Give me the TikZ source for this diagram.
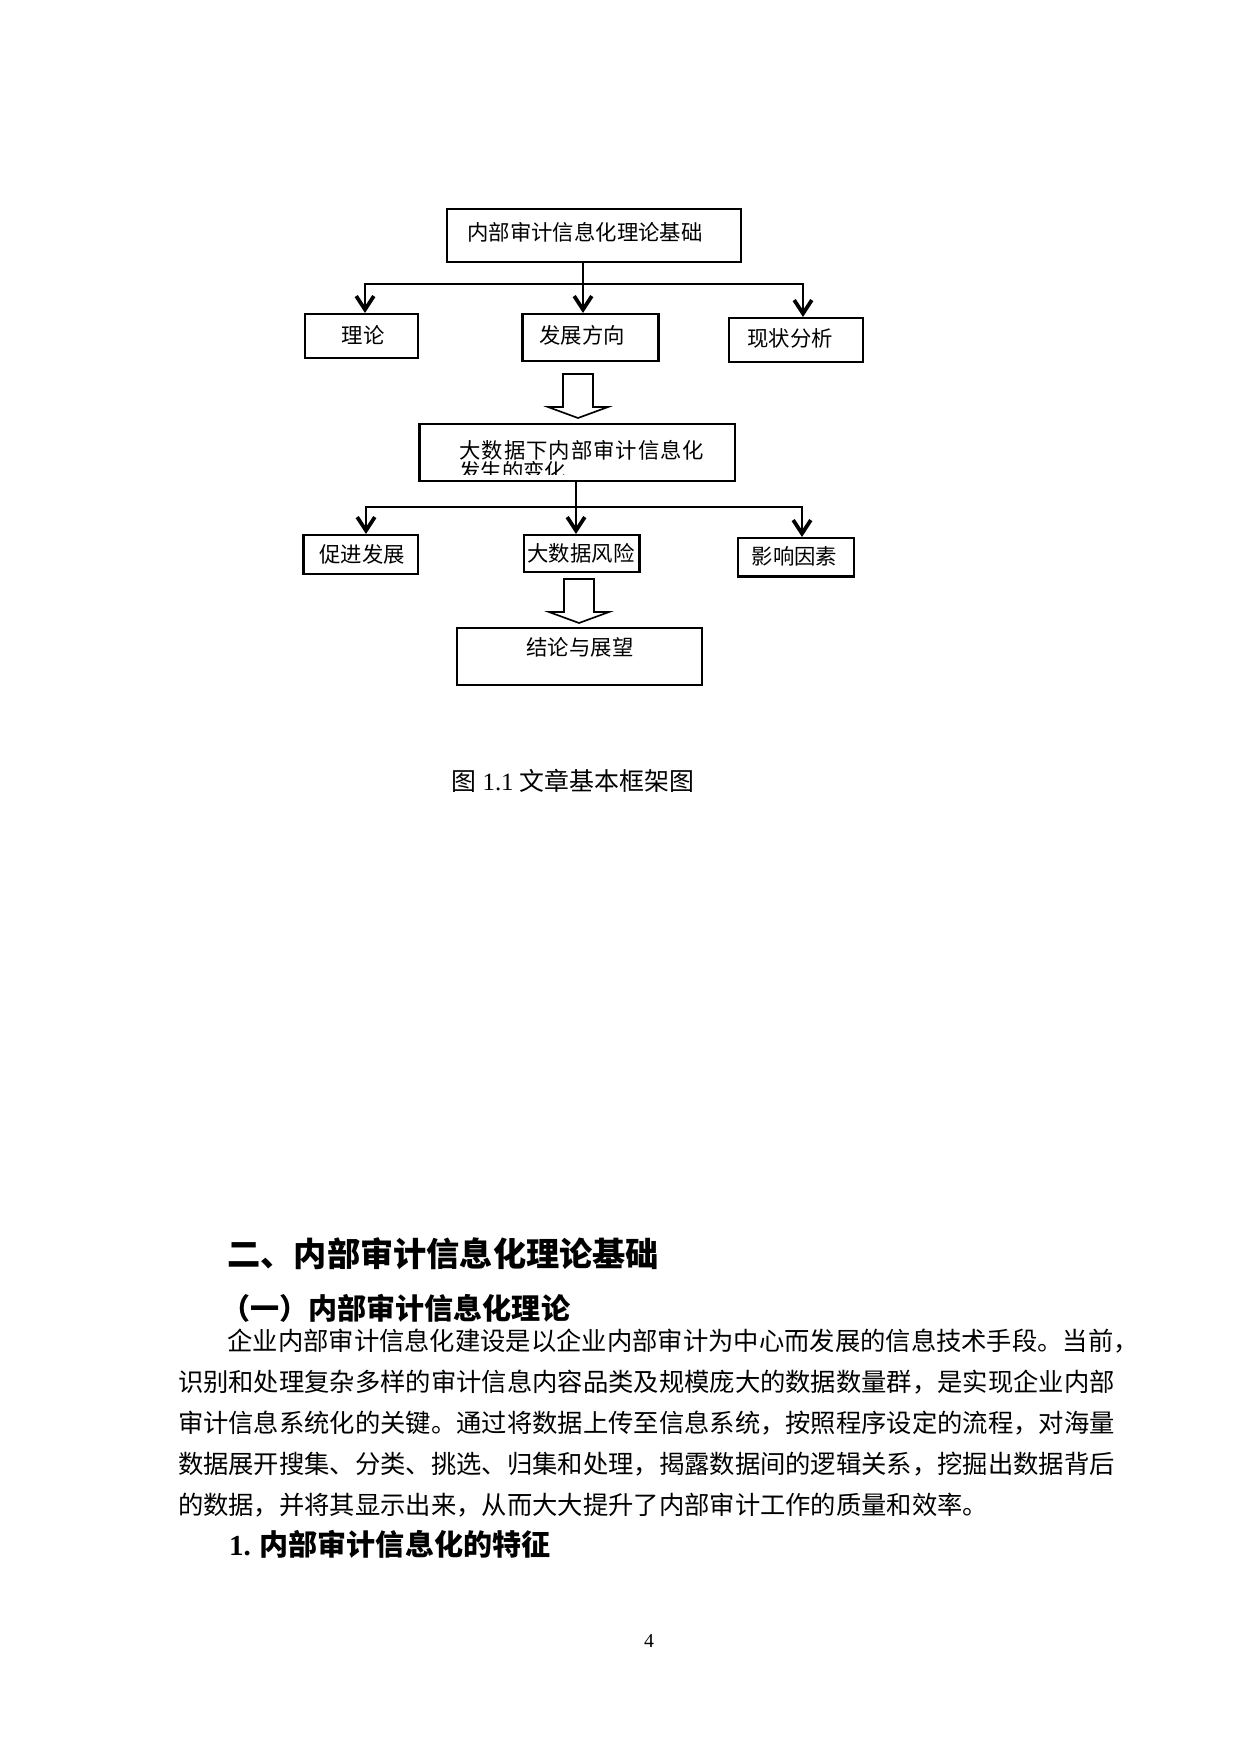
\documentclass[tikz,border=0pt]{standalone}
\usepackage{fontspec}
\setmainfont{Liberation Serif}
\newfontfamily\cjk{Noto Sans CJK SC}
\usetikzlibrary{arrows.meta,fit}
\newcommand\gapk{\kern0.47pt}
\begin{document}
\begin{tikzpicture}[x=0.169355mm,y=-0.169355mm,
  box/.style={draw, line width=1pt, inner sep=0pt},
  lbl/.style={font=\cjk\fontsize{10.3pt}{12pt}\selectfont, inner sep=0pt, anchor=base},
  conn/.style={line width=0.8pt},
  arr/.style={conn, -{Straight Barb[length=6.5pt,width=8.5pt,line width=1.8pt]}},
  blockarr/.style={draw, line width=0.8pt, line join=miter},
  hone/.style={font=\cjk\bfseries\fontsize{16pt}{18pt}\selectfont, inner sep=0pt, anchor=base west},
  htwo/.style={font=\cjk\bfseries\fontsize{14pt}{16pt}\selectfont, inner sep=0pt, anchor=base west},
  body/.style={font=\cjk\fontsize{12.2pt}{14pt}\selectfont, inner sep=0pt, anchor=base west}]
\useasboundingbox (0,0) rectangle (1240,1754);
\fill[white] (0,0) rectangle (1240,1754);

% boxes
\node[box, fit={(447,209) (741,262)}] (top) {};
\node[box, fit={(305,314) (418,358)}] (b1) {};
\node[box, fit={(522.5,314) (658.5,361)}] (b2) {};
\node[box, fit={(729,318) (863,362)}] (b3) {};
\node[box, fit={(419.5,424) (735,481)}] (c) {};
\node[box, fit={(303.5,535) (418,574)}] (d1) {};
\node[box, fit={(524.3,535) (639.5,572)}] (d2) {};
\node[box, fit={(737.6,538) (854,576.5)}] (d3) {};
\node[box, fit={(457,628) (702,685)}] (e) {};

% box texts
\node[lbl] (ttop) at (585,240) {内部审计信息化理论基础};
\node[lbl] (tb1) at (363,343) {理论};
\node[lbl] (tb2) at (582,343) {发展方向};
\node[lbl] (tb3) at (790,346.5) {现状分析};
\begin{scope}
  \clip (421,426) rectangle (733,474);
  \node[lbl, anchor=base west] (tc1) at (459,458) {大\gapk 数\gapk 据\gapk 下\gapk 内\gapk 部\gapk 审\gapk 计\gapk 信\gapk 息\gapk 化};
  \node[lbl, anchor=base west] (tc2) at (459,479) {发生的变化};
\end{scope}
\node[lbl] (td1) at (362,562) {促进发展};
\node[lbl] (td2) at (581,561.5) {大数据风险};
\node[lbl] (td3) at (794.6,564.7) {影响因素};
\node[lbl] (te) at (580,655) {结论与展望};

% tree 1
\coordinate (j1) at (583,284);
\coordinate (l1) at (365,284);
\coordinate (r1) at (803,284);
\draw[conn] (top.south -| j1) -- (j1);
\draw[arr] (j1) -| (l1 |- b1.north);
\draw[arr] (j1) -| (r1 |- b3.north);
\draw[arr] (j1) -- (j1 |- b2.north);

% block arrow 1
\coordinate (ba1) at (578,374);
\draw[blockarr] (ba1) ++(-15,0) -- ++(0,33) -- ++(-15,0) -- ++(30,11) -- ++(30,-11) -- ++(-15,0) -- ++(0,-33) -- cycle;

% tree 2
\coordinate (j2) at (576,507);
\coordinate (l2) at (366,507);
\coordinate (r2) at (802,507);
\draw[conn] (c.south -| j2) -- (j2);
\draw[arr] (j2) -| (l2 |- d1.north);
\draw[arr] (j2) -| (r2 |- d3.north);
\draw[arr] (j2) -- (j2 |- d2.north);

% block arrow 2
\coordinate (ba2) at (579,579);
\draw[blockarr] (ba2) ++(-15,0) -- ++(0,33) -- ++(-15,0) -- ++(30,11) -- ++(30,-11) -- ++(-15,0) -- ++(0,-33) -- cycle;

% caption
\node[font=\fontsize{12pt}{14pt}\selectfont, inner sep=0pt, anchor=base west] (cap) at (451,790) {{\cjk 图} 1.1 {\cjk 文章基本框架图}};

% text
\node[hone] (h1) at (227,1266) {二、内部审计信息化理论基础};
\node[htwo] (h2) at (221,1319) {（一）内部审计信息化理论};
\node[body] (p1) at (227,1350.5) {企业内部审计信息化建设是以企业内部审计为中心而发展的信息技术手段。当前，};
\node[body] (p2) at (177.6,1391.5) {识别和处理复杂多样的审计信息内容品类及规模庞大的数据数量群，是实现企业内部};
\node[body] (p3) at (177.6,1432.5) {审计信息系统化的关键。通过将数据上传至信息系统，按照程序设定的流程，对海量};
\node[body] (p4) at (177.6,1473.5) {数据展开搜集、分类、挑选、归集和处理，揭露数据间的逻辑关系，挖掘出数据背后};
\node[body] (p5) at (177.6,1514.5) {的数据，并将其显示出来，从而大大提升了内部审计工作的质量和效率。};
\node[htwo] (h3) at (228.7,1555) {{\rmfamily\bfseries 1.} 内部审计信息化的特征};

\node[font=\fontsize{9.5pt}{11pt}\selectfont, inner sep=0pt, anchor=base] (pg) at (649,1647) {4};
\end{tikzpicture}
\end{document}
